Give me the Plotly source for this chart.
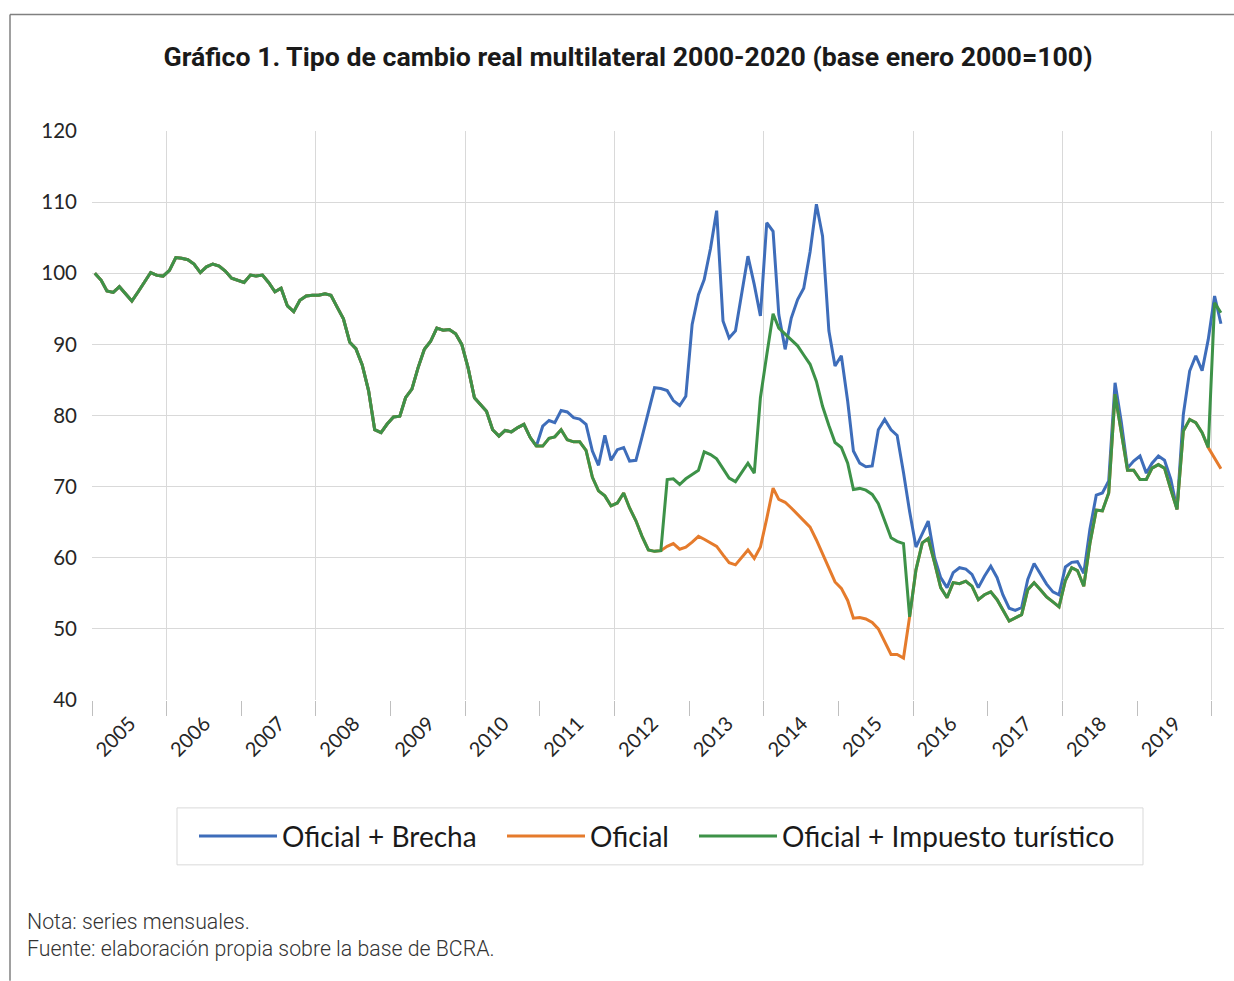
import pandas as pd
import plotly.graph_objects as go

# ---------------- data (monthly, Jan 2005 - Feb 2020) ----------------
start_month = "2005-01-01"
n_months = 182

# 2005-2010 (Jan 2005 .. Nov 2010): the three series coincide
common_2005_2010 = [
    100.0, 99.0, 97.5, 97.3, 98.1, 97.1, 96.1, 97.4, 98.8, 100.1, 99.7, 99.6,
    100.4, 102.2, 102.1, 101.9, 101.3, 100.1, 100.9, 101.3, 101.0, 100.3, 99.3, 99.0,
    98.7, 99.75, 99.6, 99.75, 98.7, 97.4, 97.9, 95.4, 94.6, 96.2, 96.8, 96.9,
    96.9, 97.1, 96.9, 95.2, 93.6, 90.3, 89.4, 87.1, 83.5, 78.0, 77.6, 78.8,
    79.8, 79.9, 82.5, 83.7, 86.7, 89.3, 90.4, 92.3, 92.0, 92.1, 91.5, 90.0,
    86.7, 82.5, 81.6, 80.6, 78.0, 77.1, 77.9, 77.7, 78.3, 78.75, 76.9,
]

# Dec 2010 .. Feb 2020
brecha_rest = [
    75.7,
    78.5, 79.3, 79.0, 80.7, 80.5, 79.7, 79.5, 78.75, 75.0, 73.0, 77.2, 73.7,
    75.2, 75.5, 73.6, 73.7, 77.0, 80.4, 83.9, 83.8, 83.5, 82.1, 81.4, 82.7,
    92.8, 97.0, 99.1, 103.5, 108.8, 93.3, 90.9, 91.9, 97.0, 102.4, 98.4, 94.0,
    107.1, 105.9, 94.2, 89.3, 93.7, 96.3, 97.9, 103.0, 109.7, 105.2, 91.9, 86.95,
    88.4, 82.0, 75.0, 73.3, 72.8, 72.9, 78.0, 79.45, 78.0, 77.2, 72.0, 66.5,
    61.5, 63.3, 65.15, 60.0, 57.2, 55.8, 57.9, 58.6, 58.4, 57.65, 55.8, 57.4,
    58.8, 57.2, 54.8, 52.9, 52.6, 53.0, 56.95, 59.2, 57.8, 56.3, 55.2, 54.8,
    58.7, 59.35, 59.45, 57.8, 64.0, 68.8, 69.1, 70.8, 84.6, 79.2, 72.6, 73.6,
    74.3, 71.9, 73.3, 74.3, 73.7, 71.0, 66.8, 80.15, 86.25, 88.4, 86.3, 90.7,
    96.8, 92.9,
]

oficial_rest = [
    75.7,
    75.7, 76.8, 77.0, 78.0, 76.6, 76.3, 76.3, 75.1, 71.3, 69.4, 68.7, 67.3,
    67.7, 69.1, 67.0, 65.2, 63.0, 61.1, 60.9, 61.0, 61.6, 62.0, 61.2, 61.5,
    62.2, 63.0, 62.6, 62.1, 61.6, 60.4, 59.3, 59.0, 60.0, 61.1, 59.9, 61.5,
    65.5, 69.8, 68.2, 67.8, 67.0, 66.1, 65.2, 64.3, 62.5, 60.5, 58.6, 56.6,
    55.7, 54.0, 51.5, 51.6, 51.4, 50.9, 50.0, 48.2, 46.4, 46.4, 45.9, 51.7,
    58.3, 62.1, 62.7, 59.3, 55.8, 54.4, 56.5, 56.35, 56.7, 56.0, 54.1, 54.8,
    55.2, 54.1, 52.7, 51.1, 51.55, 52.0, 55.5, 56.5, 55.5, 54.5, 53.8, 53.1,
    56.8, 58.6, 58.2, 56.0, 62.0, 66.7, 66.6, 69.1, 83.0, 77.8, 72.3, 72.3,
    71.0, 71.0, 72.6, 73.1, 72.6, 69.6, 66.8, 77.8, 79.45, 79.0, 77.6, 75.5,
    74.0, 72.5,
]

turistico_rest = [
    75.7,
    75.7, 76.8, 77.0, 78.0, 76.6, 76.3, 76.3, 75.1, 71.3, 69.4, 68.7, 67.3,
    67.7, 69.1, 67.0, 65.2, 63.0, 61.1, 60.9, 61.0, 71.0, 71.1, 70.3, 71.1,
    71.7, 72.3, 74.9, 74.5, 73.9, 72.5, 71.2, 70.7, 72.0, 73.3, 71.9, 82.5,
    88.5, 94.3, 92.3, 91.5, 90.6, 89.8, 88.5, 87.2, 84.8, 81.3, 78.6, 76.2,
    75.5, 73.3, 69.6, 69.75, 69.5, 68.9, 67.6, 65.3, 62.8, 62.3, 62.0, 51.7,
    58.3, 62.1, 62.7, 59.3, 55.8, 54.4, 56.5, 56.35, 56.7, 56.0, 54.1, 54.8,
    55.2, 54.1, 52.7, 51.1, 51.55, 52.0, 55.5, 56.5, 55.5, 54.5, 53.8, 53.1,
    56.8, 58.6, 58.2, 56.0, 62.0, 66.7, 66.6, 69.1, 83.0, 77.8, 72.3, 72.3,
    71.0, 71.0, 72.6, 73.1, 72.6, 69.6, 66.8, 77.8, 79.45, 79.0, 77.6, 75.5,
    95.85, 94.45,
]

series_names = ["Oficial + Brecha", "Oficial", "Oficial + Impuesto turístico"]
series_colors = ["#3E6DBA", "#E57B2C", "#3D9248"]
year_labels = [str(y) for y in range(2005, 2020)]
y_tick_values = [40, 50, 60, 70, 80, 90, 100, 110, 120]

title_text = "<b>Gráfico 1. Tipo de cambio real multilateral 2000-2020 (base enero 2000=100)</b>"
note_lines = ["Nota: series mensuales.",
              "Fuente: elaboración propia sobre la base de BCRA."]

# ---------------- build ----------------
months = pd.date_range(start_month, periods=n_months, freq="MS")
x_mid = months + pd.Timedelta(days=14)
series_values = [common_2005_2010 + brecha_rest,
                 common_2005_2010 + oficial_rest,
                 common_2005_2010 + turistico_rest]

W, H = 1234, 981
PL, PR, PT, PB = 92, 1224, 130.5, 700

def px_x(px):
    return (px - PL) / (PR - PL)

def px_y(py):
    return (PB - py) / (PB - PT)

legend_ids = ["legend", "legend2", "legend3"]
legend_left_px = [194, 502, 694]

fig = go.Figure()
for name, vals, col, lid in zip(series_names, series_values, series_colors, legend_ids):
    fig.add_trace(go.Scatter(x=x_mid, y=vals, name=name, mode="lines",
                             legend=lid, line=dict(color=col, width=3)))

year_ticks = pd.date_range("2005-01-01", "2020-01-01", freq="YS")
grid_ticks = pd.date_range("2006-01-01", "2020-01-01", freq="2YS")

legend_common = dict(orientation="h", xref="paper", yref="paper",
                     xanchor="left", y=px_y(836.5), yanchor="middle",
                     borderwidth=0, bgcolor="rgba(0,0,0,0)",
                     font=dict(family="Lato", size=28, color="#1A1A1A"),
                     itemwidth=78)

fig.update_layout(
    width=W, height=H,
    margin=dict(l=PL, r=W - PR, t=PT, b=H - PB, autoexpand=False),
    paper_bgcolor="white", plot_bgcolor="white",
    showlegend=True,
    title=dict(text=title_text, xref="paper", x=px_x(628), xanchor="center",
               yref="container", y=1 - 57 / H, yanchor="middle",
               font=dict(family="Roboto", size=26.7, color="#1A1A1A")),
    legend=dict(legend_common, x=px_x(legend_left_px[0])),
    legend2=dict(legend_common, x=px_x(legend_left_px[1])),
    legend3=dict(legend_common, x=px_x(legend_left_px[2])),
    xaxis=dict(
        range=[months[0], pd.Timestamp("2020-03-01")],
        tickmode="array", tickvals=year_ticks,
        ticktext=year_labels + [""],
        tickangle=-45, ticks="outside", ticklen=15, tickcolor="#BFBFBF",
        tickwidth=1, ticklabelshift=38, ticklabelstandoff=-12,
        tickfont=dict(family="Lato", size=20, color="#262626"),
        showgrid=False, showline=False, zeroline=False,
        minor=dict(tickvals=grid_ticks, showgrid=True, gridcolor="#D9D9D9",
                   gridwidth=1, ticks=""),
    ),
    yaxis=dict(
        range=[40, 120], tickmode="array", tickvals=y_tick_values,
        tickfont=dict(family="Lato", size=20.5, color="#262626"),
        showgrid=False, showline=False, zeroline=False, ticks="",
        ticklabelstandoff=14,
        minor=dict(tickvals=y_tick_values[1:-1], showgrid=True,
                   gridcolor="#D9D9D9", gridwidth=1, ticks=""),
    ),
)

# legend frame
fig.add_shape(type="rect", xref="paper", yref="paper", layer="below",
              x0=px_x(177), x1=px_x(1143), y0=px_y(865), y1=px_y(808),
              line=dict(color="#D9D9D9", width=1), fillcolor="white")

for k, line in enumerate(note_lines):
    fig.add_annotation(text=line, xref="paper", yref="paper",
                       x=px_x(25), y=px_y(922 + 27 * k), xanchor="left",
                       yanchor="middle", showarrow=False,
                       font=dict(family="Roboto", size=21.3, color="#333333",
                                 weight=300))

border = dict(color="#808080", width=1.5)
fig.add_shape(type="line", xref="paper", yref="paper",
              x0=px_x(10), x1=px_x(W), y0=px_y(14), y1=px_y(14), line=border)
fig.add_shape(type="line", xref="paper", yref="paper",
              x0=px_x(10), x1=px_x(10), y0=px_y(14), y1=px_y(H), line=border)

fig.write_html("out.html",
               config={"displayModeBar": False},
               post_script="document.body.style.margin='0px';")
